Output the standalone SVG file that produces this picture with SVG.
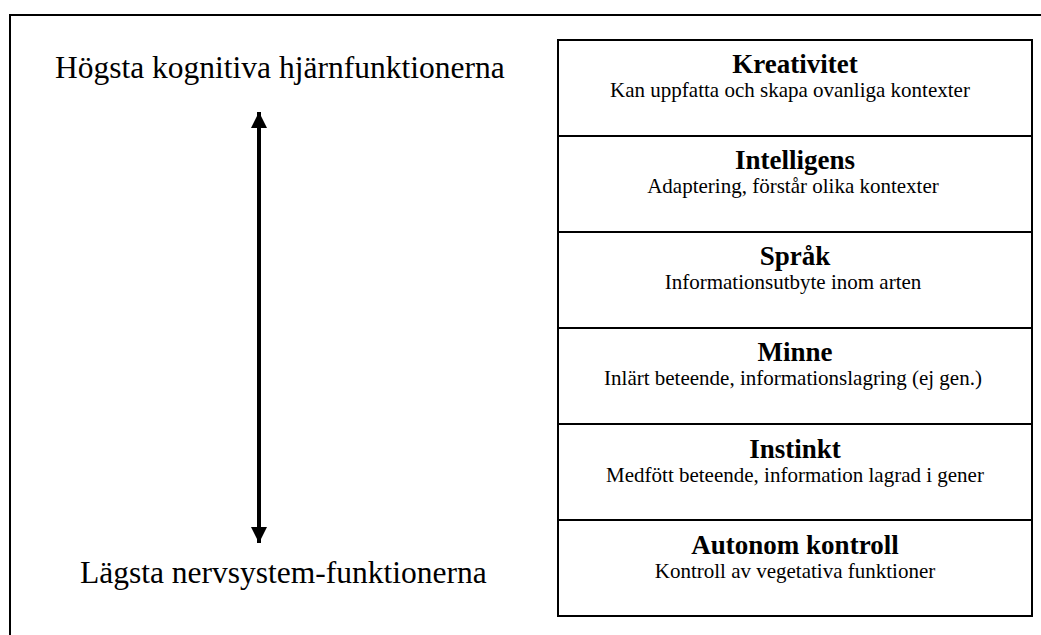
<svg xmlns="http://www.w3.org/2000/svg" width="1041" height="635" viewBox="0 0 1041 635">
<style>
.big{font-family:"Liberation Serif","Times New Roman",serif;font-size:31.5px;fill:#000}
.t{font-family:"Liberation Serif","Times New Roman",serif;font-size:27px;font-weight:bold;fill:#000;text-anchor:middle}
.s{font-family:"Liberation Serif","Times New Roman",serif;font-size:21px;fill:#000;text-anchor:middle}
.box{fill:#fff;stroke:#000;stroke-width:2}
</style>
<defs>
<marker id="ah" viewBox="0 0 16 16" refX="16" refY="8" markerWidth="16" markerHeight="16" markerUnits="userSpaceOnUse" orient="auto-start-reverse">
<path d="M0,0 L16,8 L0,16 Z" fill="#000"/>
</marker>
</defs>
<rect x="0" y="0" width="1041" height="635" fill="#fff"/>
<rect x="10" y="15" width="1040" height="640" fill="none" stroke="#000" stroke-width="2"/>
<text class="big" x="55" y="78">Högsta kognitiva hjärnfunktionerna</text>
<text class="big" x="80" y="583">Lägsta nervsystem-funktionerna</text>
<g id="connectors">
<line x1="259" y1="112" x2="259" y2="543" stroke="#000" stroke-width="4" marker-start="url(#ah)" marker-end="url(#ah)"/>
</g>
<g id="n1"><rect class="box" x="558" y="40" width="474" height="96"/><text class="t" x="795" y="73">Kreativitet</text><text class="s" x="790" y="97">Kan uppfatta och skapa ovanliga kontexter</text></g>
<g id="n2"><rect class="box" x="558" y="136" width="474" height="96"/><text class="t" x="795" y="169">Intelligens</text><text class="s" x="793" y="193">Adaptering, förstår olika kontexter</text></g>
<g id="n3"><rect class="box" x="558" y="232" width="474" height="96"/><text class="t" x="795" y="265">Språk</text><text class="s" x="793" y="289">Informationsutbyte inom arten</text></g>
<g id="n4"><rect class="box" x="558" y="328" width="474" height="96"/><text class="t" x="795" y="361">Minne</text><text class="s" x="793" y="385">Inlärt beteende, informationslagring (ej gen.)</text></g>
<g id="n5"><rect class="box" x="558" y="424" width="474" height="96"/><text class="t" x="795" y="458">Instinkt</text><text class="s" x="795" y="482">Medfött beteende, information lagrad i gener</text></g>
<g id="n6"><rect class="box" x="558" y="520" width="474" height="96"/><text class="t" x="795" y="554">Autonom kontroll</text><text class="s" x="795" y="578">Kontroll av vegetativa funktioner</text></g>
</svg>
